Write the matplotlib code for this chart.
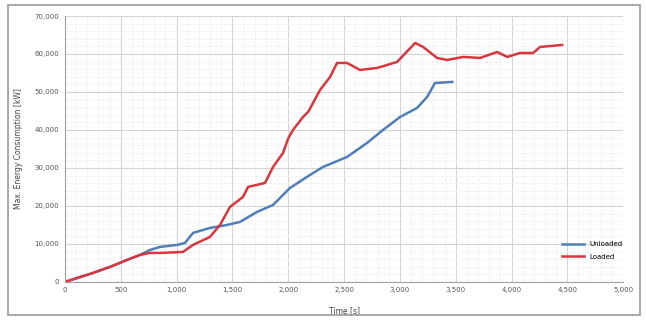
import matplotlib
matplotlib.use("Agg")
import matplotlib.pyplot as plt
from matplotlib.patches import Rectangle
from matplotlib.ticker import FuncFormatter, MultipleLocator

# Cumulative energy over time for the two runs
unloaded_t = [0, 251, 403, 556, 672, 762, 851, 1004, 1075, 1147, 1299, 1452, 1568,
              1720, 1864, 2016, 2195, 2312, 2527, 2706, 2849, 3002, 3154, 3244,
              3315, 3470]
unloaded_e = [0, 2369, 3948, 5790, 7106, 8422, 9212, 9738, 10264, 12896, 14212,
              15002, 15792, 18424, 20266, 24741, 28162, 30268, 32900, 36585, 40006,
              43428, 45797, 48692, 52376, 52640]

loaded_t = [0, 251, 403, 556, 672, 762, 851, 1057, 1147, 1299, 1389, 1478, 1595,
            1640, 1792, 1864, 1953, 2000, 2043, 2133, 2180, 2222, 2285, 2375, 2437,
            2527, 2643, 2796, 2975, 3137, 3208, 3333, 3423, 3567, 3719, 3871, 3961,
            4077, 4194, 4256, 4454]
loaded_e = [0, 2369, 3948, 5790, 7106, 7633, 7633, 7896, 9738, 11844, 15002, 19740,
            22372, 25004, 26057, 30268, 33953, 37800, 40006, 43428, 44800, 47113,
            50534, 53956, 57641, 57641, 55798, 56325, 57904, 62905, 61852, 58957,
            58430, 59220, 58957, 60536, 59220, 60273, 60273, 61852, 62378]

series_names = ["Unloaded", "Loaded"]
x_label = "Time [s]"
y_label = "Max. Energy Consumption [kW]"

fig = plt.figure(figsize=(6.46, 3.2), dpi=100)
fig.patches.append(Rectangle((0.012, 0.015), 0.978, 0.97, transform=fig.transFigure,
                             fill=False, edgecolor="#9a9a9a", linewidth=1.2))

ax = fig.add_axes([0.1006, 0.119, 0.864, 0.831])
ax.plot(unloaded_t, unloaded_e, color="#4f7fb8", linewidth=1.8, label=series_names[0])
ax.plot(loaded_t, loaded_e, color="#d9363e", linewidth=1.8, label=series_names[1])

ax.set_xlim(0, 5000)
ax.set_ylim(0, 70000)
ax.xaxis.set_major_locator(MultipleLocator(500))
ax.yaxis.set_major_locator(MultipleLocator(10000))
ax.xaxis.set_minor_locator(MultipleLocator(100))
ax.yaxis.set_minor_locator(MultipleLocator(2000))
fmt = FuncFormatter(lambda v, p: f"{int(v):,}")
ax.xaxis.set_major_formatter(fmt)
ax.yaxis.set_major_formatter(fmt)

ax.grid(which="major", color="#d4d4d4", linewidth=0.8)
ax.grid(which="minor", color="#efefef", linewidth=0.6, linestyle="--")
ax.set_axisbelow(True)
for s in ["top", "right"]:
    ax.spines[s].set_visible(False)
for s in ["left", "bottom"]:
    ax.spines[s].set_color("#a0a0a0")
ax.tick_params(which="both", length=0, labelsize=5, colors="#555555", pad=4)

ax.set_xlabel(x_label, fontsize=5.5, color="#444444", labelpad=3)
ax.xaxis.set_label_coords(0.5, -0.09)
ax.set_ylabel(y_label, fontsize=5.5, color="#444444")
ax.yaxis.set_label_coords(-0.075, 0.5)

ax.legend(loc="lower right", bbox_to_anchor=(1.01, 0.06), frameon=False,
          fontsize=5, handlelength=3.2, labelspacing=0.9)

fig.savefig("out.png", dpi=100, facecolor="white")
